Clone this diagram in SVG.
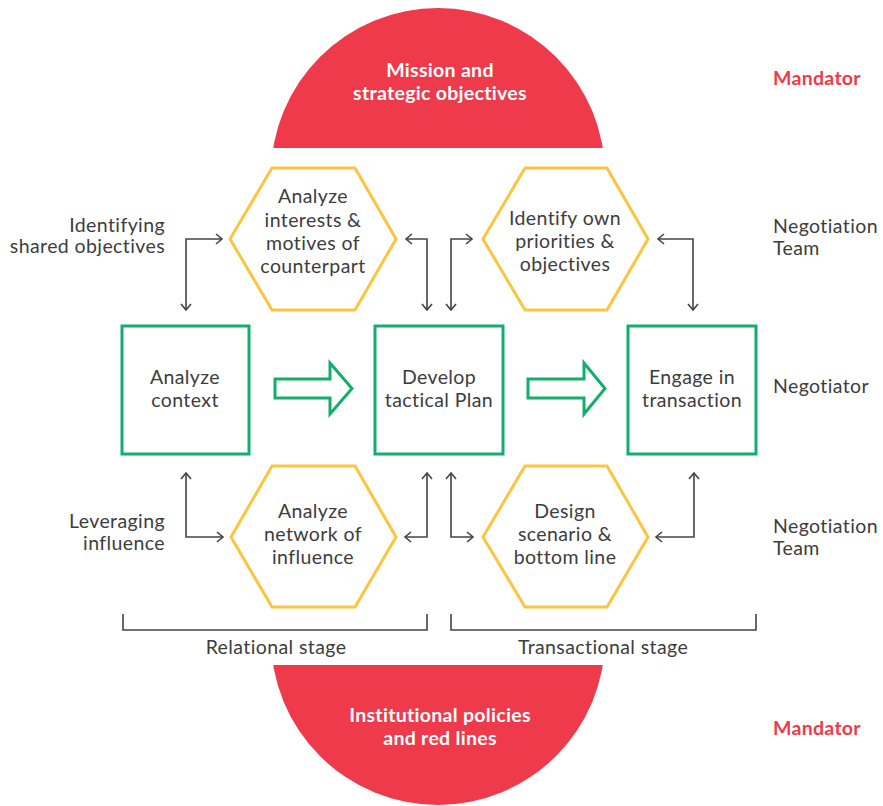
<svg xmlns="http://www.w3.org/2000/svg" width="883" height="806" viewBox="0 0 883 806">
<style>
  .t { font-family: Lato, "Noto Sans", "Liberation Sans", sans-serif; font-size: 19.5px; letter-spacing: 0.4px; fill: #3d3d3d; }
  .c { text-anchor: middle; }
  .r { text-anchor: end; }
  .w { fill: #ffffff; font-weight: 700; letter-spacing: 0.3px; }
  .red { fill: #ee3a4a; font-weight: 700; letter-spacing: 0.3px; }
  .hex { fill: #ffffff; stroke: #fdc43f; stroke-width: 3; }
  .box { fill: #ffffff; stroke: #13ae6b; stroke-width: 3; }
  .flow { fill: #ffffff; stroke: #13ae6b; stroke-width: 3; stroke-linejoin: miter; }
  .con { fill: none; stroke: #444444; stroke-width: 1.6; marker-start: url(#ah); marker-end: url(#ah); }
  .br { fill: none; stroke: #444444; stroke-width: 1.6; }
</style>
<defs>
  <marker id="ah" viewBox="0 0 12 12" refX="10" refY="6" markerWidth="12" markerHeight="12" markerUnits="userSpaceOnUse" orient="auto-start-reverse">
    <path d="M4,1 L10,6 L4,11" fill="none" stroke="#444444" stroke-width="1.6"/>
  </marker>
  <clipPath id="clipTop"><rect x="0" y="0" width="883" height="148"/></clipPath>
  <clipPath id="clipBot"><rect x="0" y="665" width="883" height="141"/></clipPath>
</defs>

<g id="mission">
  <circle cx="438" cy="175" r="167" fill="#ee3a4a" clip-path="url(#clipTop)"/>
  <text class="t c w" x="440" y="77">Mission and</text>
  <text class="t c w" x="440" y="100">strategic objectives</text>
</g>
<g id="policies">
  <circle cx="438" cy="638" r="167" fill="#ee3a4a" clip-path="url(#clipBot)"/>
  <text class="t c w" x="440" y="722">Institutional policies</text>
  <text class="t c w" x="440" y="745">and red lines</text>
</g>

<g id="connectors">
  <polyline class="con" points="222,239 186,239 186,310"/>
  <polyline class="con" points="406,239 427,239 427,310"/>
  <polyline class="con" points="472,239 451,239 451,310"/>
  <polyline class="con" points="658,239 693,239 693,310"/>
  <polyline class="con" points="186,473 186,537 223,537"/>
  <polyline class="con" points="427,473 427,537 405,537"/>
  <polyline class="con" points="451,473 451,537 473,537"/>
  <polyline class="con" points="694,473 694,537 656,537"/>
  <polygon class="flow" points="275,379 330,379 330,363 352,388.5 330,414 330,398 275,398"/>
  <polygon class="flow" points="528,379 584,379 584,363 605,388.5 584,414 584,398 528,398"/>
</g>

<g id="hex-interests">
  <polygon class="hex" points="230,239 272,168 355,168 396,239 355,310 272,310"/>
  <text class="t c" x="313" y="203">Analyze</text>
  <text class="t c" x="313" y="227">interests &amp;</text>
  <text class="t c" x="313" y="250">motives of</text>
  <text class="t c" x="313" y="273">counterpart</text>
</g>
<g id="hex-priorities">
  <polygon class="hex" points="483,239 525,168 607,168 648,239 607,310 525,310"/>
  <text class="t c" x="565" y="225">Identify own</text>
  <text class="t c" x="565" y="248">priorities &amp;</text>
  <text class="t c" x="565" y="271">objectives</text>
</g>
<g id="hex-network">
  <polygon class="hex" points="231,537 272,466 355,466 396,537 355,607 272,607"/>
  <text class="t c" x="313" y="518">Analyze</text>
  <text class="t c" x="313" y="541">network of</text>
  <text class="t c" x="313" y="564">influence</text>
</g>
<g id="hex-design">
  <polygon class="hex" points="483,537 525,466 607,466 648,537 607,607 525,607"/>
  <text class="t c" x="565" y="518">Design</text>
  <text class="t c" x="565" y="541">scenario &amp;</text>
  <text class="t c" x="565" y="564">bottom line</text>
</g>

<g id="box-context">
  <rect class="box" x="122" y="326" width="127" height="128"/>
  <text class="t c" x="185" y="384">Analyze</text>
  <text class="t c" x="185" y="407">context</text>
</g>
<g id="box-plan">
  <rect class="box" x="375" y="326" width="128" height="128"/>
  <text class="t c" x="439" y="384">Develop</text>
  <text class="t c" x="439" y="407">tactical Plan</text>
</g>
<g id="box-engage">
  <rect class="box" x="628" y="326" width="128" height="128"/>
  <text class="t c" x="692" y="384">Engage in</text>
  <text class="t c" x="692" y="407">transaction</text>
</g>

<g id="stages">
  <polyline class="br" points="123,614 123,630 427,630 427,614"/>
  <polyline class="br" points="451,614 451,630 756,630 756,614"/>
  <text class="t c" x="276" y="654">Relational stage</text>
  <text class="t c" x="603" y="654">Transactional stage</text>
</g>

<g id="left-labels">
  <text class="t r" x="165" y="232">Identifying</text>
  <text class="t r" x="165" y="253">shared objectives</text>
  <text class="t r" x="165" y="528">Leveraging</text>
  <text class="t r" x="165" y="550">influence</text>
</g>

<g id="right-labels">
  <text class="t red" x="773" y="85">Mandator</text>
  <text class="t" x="773" y="233">Negotiation</text>
  <text class="t" x="773" y="255">Team</text>
  <text class="t" x="773" y="393">Negotiator</text>
  <text class="t" x="773" y="533">Negotiation</text>
  <text class="t" x="773" y="555">Team</text>
  <text class="t red" x="773" y="735">Mandator</text>
</g>
</svg>
